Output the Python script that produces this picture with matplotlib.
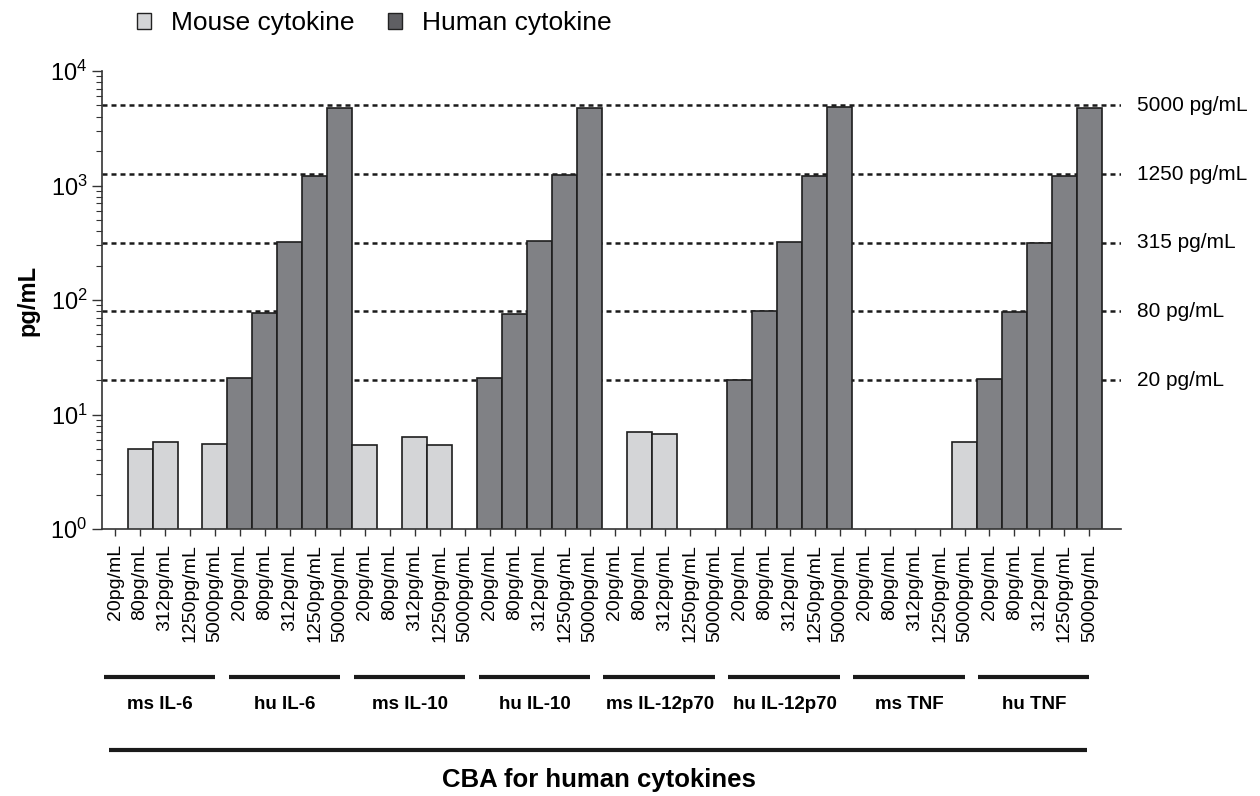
import matplotlib
matplotlib.use("Agg")
import matplotlib.pyplot as plt
from matplotlib.patches import Patch
import numpy as np

plt.rcParams['font.family'] = ['Liberation Sans', 'DejaVu Sans']
plt.rcParams['mathtext.fontset'] = 'custom'
plt.rcParams['mathtext.rm'] = 'Liberation Sans'

# data (0 = no bar)
groups = ["ms IL-6", "hu IL-6", "ms IL-10", "hu IL-10",
          "ms IL-12p70", "hu IL-12p70", "ms TNF", "hu TNF"]
is_mouse = [True, False, True, False, True, False, True, False]
conc_labels = ["20pg/mL", "80pg/mL", "312pg/mL", "1250pg/mL", "5000pg/mL"]

ms_il6 = [0, 5.0, 5.7, 0, 5.5]
hu_il6 = [20.8, 77, 320, 1200, 4750]
ms_il10 = [5.4, 0, 6.4, 5.4, 0]
hu_il10 = [21, 76, 325, 1230, 4800]
ms_il12 = [0, 7.0, 6.7, 0, 0]
hu_il12 = [20, 80, 320, 1200, 4850]
ms_tnf = [0, 0, 0, 0, 5.7]
hu_tnf = [20.5, 79, 316, 1200, 4800]
values = [ms_il6, hu_il6, ms_il10, hu_il10, ms_il12, hu_il12, ms_tnf, hu_tnf]

ref_levels = [20, 80, 315, 1250, 5000]
ref_labels = ["20 pg/mL", "80 pg/mL", "315 pg/mL", "1250 pg/mL", "5000 pg/mL"]

light = "#d4d5d7"
dark = "#808185"

fig = plt.figure(figsize=(12.6, 7.96), dpi=100)
ax = fig.add_axes([0.081, 0.3354, 0.809, 0.5754])

n = len(conc_labels)
xs, ys, cols = [], [], []
for g, vals in enumerate(values):
    for i, v in enumerate(vals):
        if v > 0:
            xs.append(g * n + i)
            ys.append(v)
            cols.append(light if is_mouse[g] else dark)

for lv in ref_levels:
    ax.axhline(lv, color="#1a1a1a", lw=1.8, ls=(0, (2, 1.6)), zorder=1)

ax.bar(xs, ys, width=1.0, color=cols, edgecolor="#1e1e1e", linewidth=1.2, zorder=2)

ax.set_yscale("log")
ax.set_ylim(1, 1e4)
ax.set_xlim(-0.52, 40.28)

for s in ["top", "right"]:
    ax.spines[s].set_visible(False)
for s in ["left", "bottom"]:
    ax.spines[s].set_linewidth(1.2)
    ax.spines[s].set_color("#333333")

all_x = np.arange(len(groups) * n)
ax.set_xticks(all_x)
ax.set_xticklabels(conc_labels * len(groups), rotation=90, fontsize=14)
ax.tick_params(axis="x", length=5, width=1, color="#333333", pad=6)
ax.tick_params(axis="y", which="major", length=7, width=1, labelsize=17, color="#333333")
ax.tick_params(axis="y", which="minor", length=4, width=0.8, color="#333333")
ax.set_ylabel("pg/mL", fontsize=17, fontweight="bold", labelpad=8)

for lv, lab in zip(ref_levels, ref_labels):
    ax.text(1.015, lv, lab, transform=ax.get_yaxis_transform(),
            va="center", ha="left", fontsize=15)

tr = ax.get_xaxis_transform()
for g, name in enumerate(groups):
    x0 = g * n
    ax.plot([x0 - 0.45, x0 + n - 1], [-0.323, -0.323], color="#1a1a1a",
            lw=3, transform=tr, clip_on=False, solid_capstyle="butt")
    ax.text(x0 + (n - 1) / 2 - 0.2, -0.384, name, transform=tr, ha="center",
            va="center", fontsize=13.5, fontweight="bold")

ax.plot([-0.25, 38.9], [-0.4825, -0.4825], color="#1a1a1a", lw=3,
        transform=tr, clip_on=False, solid_capstyle="butt")
ax.text(19.35, -0.548, "CBA for human cytokines", transform=tr, ha="center",
        va="center", fontsize=18.5, fontweight="bold")

handles = [Patch(facecolor=light, edgecolor="#222222", label="Mouse cytokine"),
           Patch(facecolor="#5f5f63", edgecolor="#222222", label="Human cytokine")]
fig.legend(handles=handles, loc="center left", bbox_to_anchor=(0.1087, 0.971),
           ncol=2, frameon=False, fontsize=19, handlelength=0.55,
           handleheight=0.55, handletextpad=0.75, columnspacing=1.25,
           borderpad=0, borderaxespad=0)

fig.savefig("out.png", dpi=100)
